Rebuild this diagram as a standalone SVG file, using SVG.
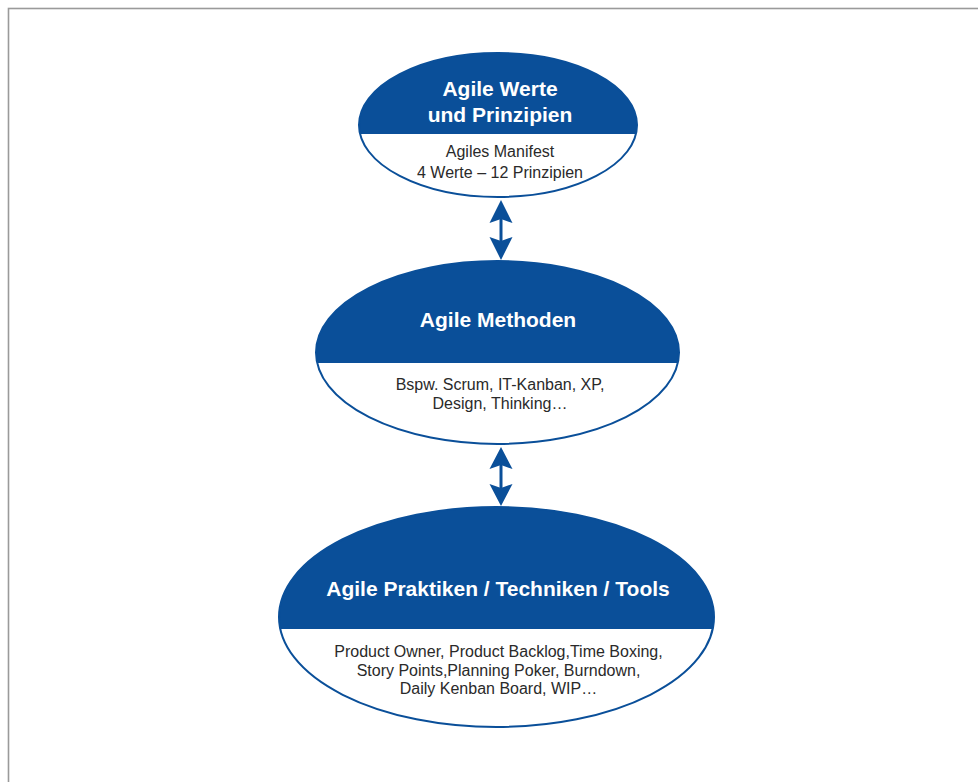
<svg xmlns="http://www.w3.org/2000/svg" width="978" height="782" viewBox="0 0 978 782">
<style>
.frame{fill:none;stroke:#9a9a9a;stroke-width:1.6}
.ell{fill:none;stroke:#0a4f99;stroke-width:2}
.top{fill:#0a4f99}
.title{font-family:"Liberation Sans",Arial,sans-serif;font-weight:bold;font-size:21px;fill:#ffffff;text-anchor:middle}
.sub{font-family:"Liberation Sans",Arial,sans-serif;font-size:16px;fill:#2a2a2a;text-anchor:middle}
.shaft{stroke:#0a4f99;stroke-width:3;fill:none}
.head{fill:#0a4f99}
</style>
<defs>
<clipPath id="c1"><ellipse cx="498" cy="125" rx="139" ry="72"/></clipPath>
<clipPath id="c2"><ellipse cx="497.5" cy="352.5" rx="181.5" ry="91.5"/></clipPath>
<clipPath id="c3"><ellipse cx="496.5" cy="617" rx="217.5" ry="110"/></clipPath>
</defs>
<rect width="978" height="782" fill="#ffffff"/>
<rect class="frame" x="8.5" y="8.5" width="980" height="790"/>
<g id="connectors">
<g id="arrow1">
<line class="shaft" x1="501" y1="215" x2="501" y2="245"/>
<path class="head" d="M501 200 L512.5 223 L501 219 L489.5 223 Z"/>
<path class="head" d="M501 260 L512.5 237 L501 241 L489.5 237 Z"/>
</g>
<g id="arrow2">
<line class="shaft" x1="501" y1="462" x2="501" y2="491"/>
<path class="head" d="M501 447 L512.5 469 L501 465 L489.5 469 Z"/>
<path class="head" d="M501 506 L512.5 484 L501 488 L489.5 484 Z"/>
</g>
</g>
<g id="node1">
<rect class="top" x="350" y="50" width="300" height="84" clip-path="url(#c1)"/>
<ellipse class="ell" cx="498" cy="125" rx="139" ry="72"/>
<text class="title" x="500" y="96">Agile Werte</text>
<text class="title" x="500" y="122">und Prinzipien</text>
<text class="sub" x="500" y="157">Agiles Manifest</text>
<text class="sub" x="500" y="178">4 Werte – 12 Prinzipien</text>
</g>
<g id="node2">
<rect class="top" x="310" y="255" width="380" height="108" clip-path="url(#c2)"/>
<ellipse class="ell" cx="497.5" cy="352.5" rx="181.5" ry="91.5"/>
<text class="title" x="498" y="327">Agile Methoden</text>
<text class="sub" x="500" y="390">Bspw. Scrum, IT-Kanban, XP,</text>
<text class="sub" x="500" y="409">Design, Thinking…</text>
</g>
<g id="node3">
<rect class="top" x="270" y="500" width="460" height="129" clip-path="url(#c3)"/>
<ellipse class="ell" cx="496.5" cy="617" rx="217.5" ry="110"/>
<text class="title" x="498" y="596">Agile Praktiken / Techniken / Tools</text>
<text class="sub" x="498.5" y="657">Product Owner, Product Backlog,Time Boxing,</text>
<text class="sub" x="498.5" y="676">Story Points,Planning Poker, Burndown,</text>
<text class="sub" x="498.5" y="694">Daily Kenban Board, WIP…</text>
</g>
</svg>
